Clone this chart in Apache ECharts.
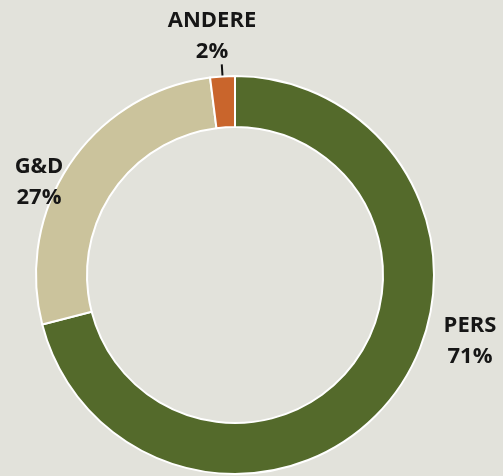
<!DOCTYPE html>
<html>
<head>
<meta charset="utf-8">
<script src="https://cdn.jsdelivr.net/npm/echarts@6/dist/echarts.min.js"></script>
<style>
  html, body { margin: 0; padding: 0; background: #e2e2db; }
  #chart { width: 503px; height: 476px; }
</style>
</head>
<body>
<div id="chart"></div>
<script>
// Anteile der Kategorien
const categories = ['PERS', 'G&D', 'ANDERE'];
const shares = [71, 27, 2];
const colors = ['#546a2b', '#cbc39c', '#c9652c'];

// Beschriftungspositionen (Mittelpunkt des Textblocks)
const labelPos = [[470, 341], [39, 182], [212, 36]];

const chart = echarts.init(document.getElementById('chart'));

chart.setOption({
    backgroundColor: '#e2e2db',
    animation: false,
    series: [{
        type: 'pie',
        center: [235, 275],
        radius: [148, 199],
        startAngle: 90,
        clockwise: true,
        avoidLabelOverlap: false,
        itemStyle: { borderColor: '#ffffff', borderWidth: 2 },
        label: {
            show: true,
            position: 'outside',
            formatter: p => p.name + '\n' + p.value + '%',
            fontFamily: 'Open Sans',
            fontWeight: 'bold',
            fontSize: 22,
            lineHeight: 31,
            color: '#161616',
            align: 'center'
        },
        labelLine: { show: false },
        labelLayout: p => {
            const pos = labelPos[p.dataIndex];
            const out = { x: pos[0], y: pos[1], align: 'center', verticalAlign: 'middle' };
            // Führungslinie etwas in das Segment hinein verlängern
            const pts = p.labelLinePoints;
            if (pts && pts.length >= 2) {
                const a = pts[0], b = pts[pts.length - 1];
                const dx = a[0] - b[0], dy = a[1] - b[1];
                const len = Math.sqrt(dx * dx + dy * dy) || 1;
                out.labelLinePoints = [
                    [a[0] + dx / len * 24, a[1] + dy / len * 24],
                    [b[0], b[1]]
                ];
            }
            return out;
        },
        data: categories.map((name, i) => ({
            name: name,
            value: shares[i],
            itemStyle: { color: colors[i] },
            labelLine: i === 2
                ? { show: true, length: 12, length2: 0, lineStyle: { color: '#111', width: 2 } }
                : { show: false }
        }))
    }]
});
</script>
</body>
</html>
